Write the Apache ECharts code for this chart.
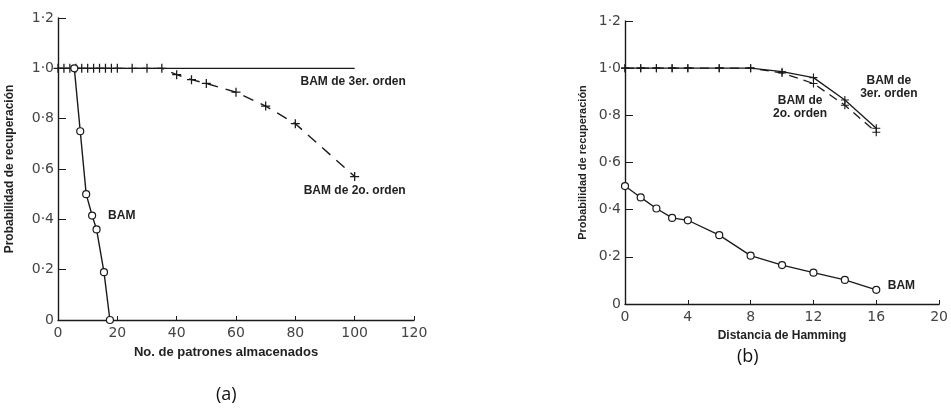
<!DOCTYPE html>
<html>
<head>
<meta charset="utf-8">
<script src="https://cdn.jsdelivr.net/npm/echarts@6/dist/echarts.min.js"></script>
<style>
  html, body { margin: 0; padding: 0; background: #fff; }
  #chart { width: 951px; height: 409px; }
</style>
</head>
<body>
<div id="chart"></div>
<script>
// (a) recuperación vs. número de patrones almacenados
const patronesBAM = [5.5, 7.5, 9.5, 11.5, 13, 15.5, 17.5]
const probBAM_a = [1.0, 0.75, 0.5, 0.415, 0.36, 0.19, 0]
const patrones2o = [0, 2, 4, 6, 8, 10, 12, 14, 16, 18, 20, 25, 30, 35, 40, 45, 50, 60, 70, 80, 100]
const prob2o_a = [1, 1, 1, 1, 1, 1, 1, 1, 1, 1, 1, 1, 1, 1, 0.975, 0.955, 0.94, 0.905, 0.85, 0.78, 0.57]
const patrones3er = [0, 100]
const prob3er_a = [1.0, 1.0]

// (b) recuperación vs. distancia de Hamming
const hammingBAM = [0, 1, 2, 3, 4, 6, 8, 10, 12, 14, 16]
const probBAM_b = [0.5, 0.452, 0.405, 0.365, 0.355, 0.292, 0.205, 0.165, 0.133, 0.102, 0.06]
const hammingOrden = [0, 1, 2, 3, 4, 6, 8, 10, 12, 14, 16]
const prob3er_b = [1, 1, 1, 1, 1, 1, 1, 0.985, 0.96, 0.865, 0.745]
const prob2o_b = [1, 1, 1, 1, 1, 1, 1, 0.98, 0.935, 0.843, 0.728]

const yTicks = ['0', '0·2', '0·4', '0·6', '0·8', '1·0', '1·2']

const ink = '#1a1a1a'
const cross = 'path://M4.3,0H5.7V10H4.3ZM0,4.3H10V5.7H0Z'
const zip = (xs, ys) => xs.map((x, i) => [x, ys[i]])

const tag = (x, y, text) => ({
  coord: [x, y], symbol: 'circle', symbolSize: 0,
  label: { show: true, position: 'inside', formatter: text, color: '#222',
    fontFamily: 'Liberation Sans', fontWeight: 'bold', fontSize: 12, lineHeight: 13 }
})

const titleFont = (size) => ({ fontFamily: 'Liberation Sans', fontWeight: 'bold', fontSize: size, color: '#222' })

const xAxisBase = {
  type: 'value', nameLocation: 'middle',
  axisLine: { lineStyle: { color: ink, width: 1.4 } },
  axisTick: { inside: true, length: 4, lineStyle: { color: ink } },
  axisLabel: { fontFamily: 'DejaVu Sans', fontSize: 14, color: '#444', margin: 6 },
  splitLine: { show: false }
}
const yAxisBase = {
  type: 'value', min: 0, max: 1.2, interval: 0.2, nameLocation: 'middle',
  name: 'Probabilidad de recuperación',
  axisLine: { show: true, lineStyle: { color: ink, width: 1.4 } },
  axisTick: { show: true, inside: true, length: 8, lineStyle: { color: ink } },
  axisLabel: { fontFamily: 'DejaVu Sans', fontSize: 14, color: '#444', margin: 4,
    formatter: (v) => yTicks[Math.round(v / 0.2)] },
  splitLine: { show: false }
}

const option = {
  animation: false,
  backgroundColor: '#fff',
  title: [
    { text: '(a)', left: 211, top: 381, textStyle: { fontFamily: 'Open Sans', fontWeight: 'normal', fontSize: 18, color: '#111' } },
    { text: '(b)', left: 732, top: 343, textStyle: { fontFamily: 'Open Sans', fontWeight: 'normal', fontSize: 18, color: '#111' } }
  ],
  grid: [
    { left: 58, right: 537, top: 18, bottom: 89 },
    { left: 625, right: 3.5, top: 21, bottom: 105 }
  ],
  xAxis: [
    { ...xAxisBase, gridIndex: 0, min: 0, max: 120, interval: 20, name: 'No. de patrones almacenados',
      nameGap: 26, nameTextStyle: { ...titleFont(13), padding: [0, 20, 0, 0] } },
    { ...xAxisBase, gridIndex: 1, min: 0, max: 20, interval: 4, name: 'Distancia de Hamming',
      nameGap: 26, nameTextStyle: titleFont(12) }
  ],
  yAxis: [
    { ...yAxisBase, gridIndex: 0, nameGap: 42, nameTextStyle: titleFont(12) },
    { ...yAxisBase, gridIndex: 1, nameGap: 37, nameTextStyle: titleFont(11) }
  ],
  series: [
    {
      name: 'BAM de 3er. orden (a)', type: 'line', xAxisIndex: 0, yAxisIndex: 0,
      data: zip(patrones3er, prob3er_a), symbol: 'none',
      lineStyle: { color: ink, width: 1.4 },
      markPoint: { data: [tag(99.5, 0.945, 'BAM de 3er. orden')] }
    },
    {
      name: 'BAM de 2o. orden (a)', type: 'line', xAxisIndex: 0, yAxisIndex: 0,
      data: zip(patrones2o, prob2o_a), symbol: cross, symbolSize: 9,
      itemStyle: { color: ink },
      lineStyle: { color: ink, width: 1.4, type: [11, 8] },
      markPoint: { data: [tag(100, 0.515, 'BAM de 2o. orden')] }
    },
    {
      name: 'BAM (a)', type: 'line', xAxisIndex: 0, yAxisIndex: 0,
      data: zip(patronesBAM, probBAM_a), symbol: 'circle', symbolSize: 7,
      showAllSymbol: true,
      itemStyle: { color: '#fff', borderColor: ink, borderWidth: 1.2 },
      lineStyle: { color: ink, width: 1.4 },
      markPoint: { data: [tag(21.5, 0.413, 'BAM')] }
    },
    {
      name: 'BAM de 3er. orden (b)', type: 'line', xAxisIndex: 1, yAxisIndex: 1,
      data: zip(hammingOrden, prob3er_b), symbol: cross, symbolSize: 8,
      itemStyle: { color: ink },
      lineStyle: { color: ink, width: 1.3 },
      markPoint: { data: [tag(16.8, 0.92, 'BAM de\n3er. orden')] }
    },
    {
      name: 'BAM de 2o. orden (b)', type: 'line', xAxisIndex: 1, yAxisIndex: 1,
      data: zip(hammingOrden, prob2o_b), symbol: cross, symbolSize: 8,
      itemStyle: { color: ink },
      lineStyle: { color: ink, width: 1.3, type: [9, 6] },
      markPoint: { data: [tag(11.15, 0.835, 'BAM de\n2o. orden')] }
    },
    {
      name: 'BAM (b)', type: 'line', xAxisIndex: 1, yAxisIndex: 1,
      data: zip(hammingBAM, probBAM_b), symbol: 'circle', symbolSize: 7,
      showAllSymbol: true,
      itemStyle: { color: '#fff', borderColor: ink, borderWidth: 1.2 },
      lineStyle: { color: ink, width: 1.3 },
      markPoint: { data: [tag(17.6, 0.078, 'BAM')] }
    }
  ]
}

const myChart = echarts.init(document.getElementById('chart'))
myChart.setOption(option)
</script>
</body>
</html>
